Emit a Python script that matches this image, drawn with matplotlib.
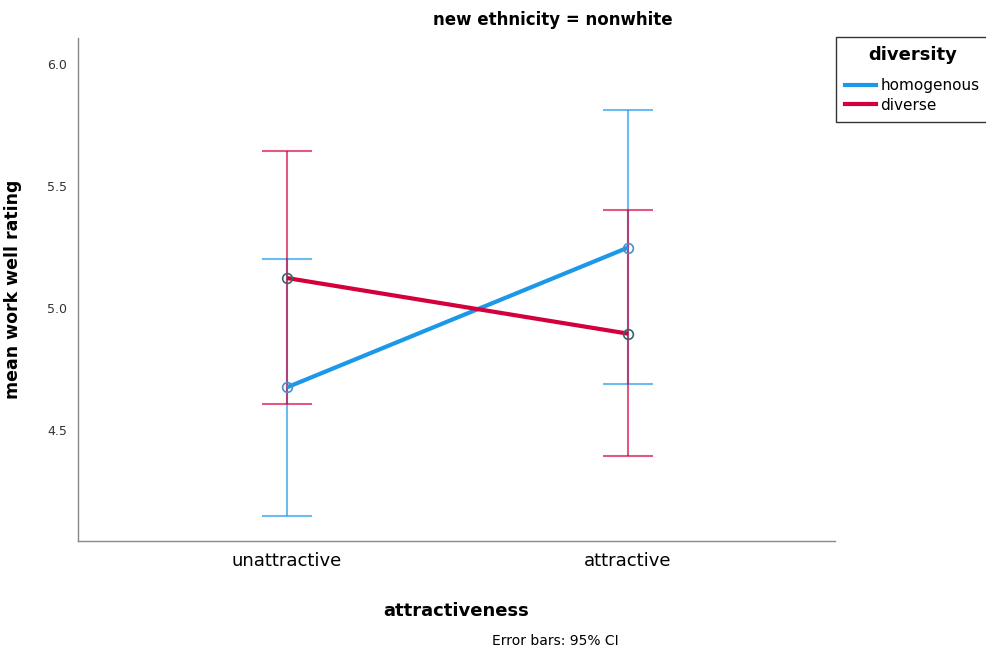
import matplotlib
matplotlib.use("Agg")
import matplotlib.pyplot as plt
from matplotlib.lines import Line2D

# data
categories = ["unattractive", "attractive"]
homog_mean = [4.675, 5.248]
homog_low = [4.148, 4.688]
homog_high = [5.200, 5.810]
diverse_mean = [5.123, 4.895]
diverse_low = [4.605, 4.392]
diverse_high = [5.643, 5.400]

blue = "#1c98e8"
red = "#d4003b"

plt.rcParams["font.family"] = ["DejaVu Sans"]

fig = plt.figure(figsize=(9.86, 6.51), dpi=100)
ax = fig.add_axes([0.0791, 0.169, 0.7678, 0.7726])

x = list(range(len(categories)))

# error bars first (lighter), then the mean lines on top
for means, lows, highs, col in [(homog_mean, homog_low, homog_high, blue),
                                (diverse_mean, diverse_low, diverse_high, red)]:
    yerr = [[m - l for m, l in zip(means, lows)], [h - m for m, h in zip(means, highs)]]
    ax.errorbar(x, means, yerr=yerr, fmt="none", ecolor=col, alpha=0.65,
                elinewidth=1.5, capsize=18, capthick=1.5, zorder=2)

ax.plot(x, homog_mean, color=blue, lw=3, zorder=3, solid_capstyle="butt")
ax.plot(x, diverse_mean, color=red, lw=3, zorder=3, solid_capstyle="butt")
ax.plot(x, homog_mean, "o", ms=7, mfc="none", mec="#4a90c8", mew=1.2, zorder=4)
ax.plot(x, diverse_mean, "o", ms=7, mfc="none", mec="#2f6b66", mew=1.2, zorder=4)

ax.set_xlim(-0.613, 1.607)
ax.set_ylim(4.045, 6.107)
ax.set_yticks([4.5, 5.0, 5.5, 6.0])
ax.set_yticklabels(["4.5", "5.0", "5.5", "6.0"])
ax.set_xticks(x)
ax.set_xticklabels(categories, fontsize=13)
ax.tick_params(axis="y", length=0, labelsize=9, pad=8, labelcolor="#333333")
ax.tick_params(axis="x", length=0, pad=8)

for s in ["top", "right"]:
    ax.spines[s].set_visible(False)
for s in ["left", "bottom"]:
    ax.spines[s].set_color("#888888")
    ax.spines[s].set_linewidth(1.0)

ax.set_xlabel("attractiveness", fontsize=13, fontweight="bold")
ax.xaxis.set_label_coords(0.5, -0.122)
ax.set_ylabel("mean work well rating", fontsize=12.5, fontweight="bold")
ax.yaxis.set_label_coords(-0.074, 0.5)

fig.text(0.561, 0.969, "new ethnicity = nonwhite", ha="center", va="center",
         fontsize=12, fontweight="bold")
fig.text(0.563, 0.015, "Error bars: 95% CI", ha="center", va="center", fontsize=10)

handles = [Line2D([], [], color=blue, lw=3), Line2D([], [], color=red, lw=3)]
leg = fig.legend(handles, ["homogenous", "diverse"], title="diversity",
                 loc="upper left", bbox_to_anchor=(0.848, 0.943),
                 frameon=True, fancybox=False, edgecolor="black",
                 fontsize=11, title_fontproperties={"weight": "bold", "size": 13},
                 handlelength=2.0, handletextpad=0.3, borderaxespad=0,
                 labelspacing=0.3, borderpad=0.6)
leg._legend_box.sep = 10
leg.get_frame().set_linewidth(1.0)

fig.savefig("out.png", dpi=100)
